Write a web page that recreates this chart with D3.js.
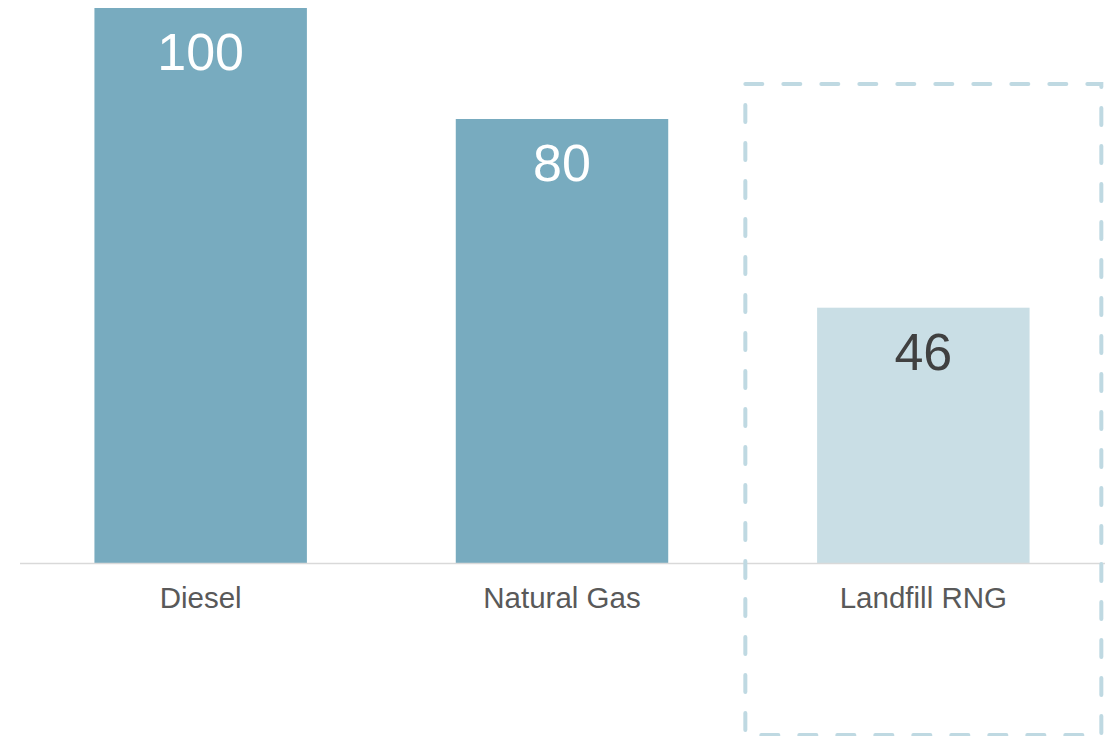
<!DOCTYPE html>
<html>
<head>
<meta charset="utf-8">
<script src="https://cdn.jsdelivr.net/npm/d3@7"></script>
<style>
  body { margin: 0; background: #fff; }
  svg { display: block; font-family: "Liberation Sans", Arial, sans-serif; }
</style>
</head>
<body>
<script>
var categories = ["Diesel", "Natural Gas", "Landfill RNG"];
var values = [100, 80, 46];
var highlight = "Landfill RNG";

var W = 1110, H = 736;
var baseY = 563;

var svg = d3.select("body").append("svg")
    .attr("width", W)
    .attr("height", H);

var x = d3.scaleBand()
    .domain(categories)
    .range([20, 1104])
    .paddingInner(0.412)
    .paddingOuter(0.206);

var y = d3.scaleLinear()
    .domain([0, 100])
    .range([baseY, 8]);

var data = categories.map(function(c, i){ return {cat: c, val: values[i]}; });

// bars
svg.selectAll("rect.bar")
    .data(data)
  .enter().append("rect")
    .attr("class", "bar")
    .attr("x", function(d){ return x(d.cat); })
    .attr("y", function(d){ return y(d.val); })
    .attr("width", x.bandwidth())
    .attr("height", function(d){ return baseY - y(d.val); })
    .attr("fill", function(d){ return d.cat === highlight ? "#c9dee5" : "#78abbf"; });

// baseline
svg.append("line")
    .attr("x1", 20).attr("x2", 1105)
    .attr("y1", baseY + 0.5).attr("y2", baseY + 0.5)
    .attr("stroke", "#d9d9d9")
    .attr("stroke-width", 1.5);

// value labels
svg.selectAll("text.val")
    .data(data)
  .enter().append("text")
    .attr("class", "val")
    .attr("x", function(d){ return x(d.cat) + x.bandwidth() / 2; })
    .attr("y", function(d){ return y(d.val) + 62; })
    .attr("text-anchor", "middle")
    .attr("font-size", 52)
    .attr("fill", function(d){ return d.cat === highlight ? "#404040" : "#ffffff"; })
    .text(function(d){ return d.val; });

// category labels
svg.selectAll("text.cat")
    .data(data)
  .enter().append("text")
    .attr("class", "cat")
    .attr("x", function(d){ return x(d.cat) + x.bandwidth() / 2; })
    .attr("y", 608)
    .attr("text-anchor", "middle")
    .attr("font-size", 29.5)
    .attr("fill", "#595959")
    .text(function(d){ return d.cat; });

// dashed highlight box
var pad = x.step() * 0.2;
svg.append("rect")
    .attr("x", x(highlight) - pad + 0.5)
    .attr("y", 84)
    .attr("width", x.bandwidth() + 2 * pad - 1)
    .attr("height", 651)
    .attr("fill", "none")
    .attr("stroke", "#bfd9e2")
    .attr("stroke-width", 4)
    .attr("stroke-linecap", "round")
    .attr("stroke-dasharray", "17,21");
</script>
</body>
</html>
